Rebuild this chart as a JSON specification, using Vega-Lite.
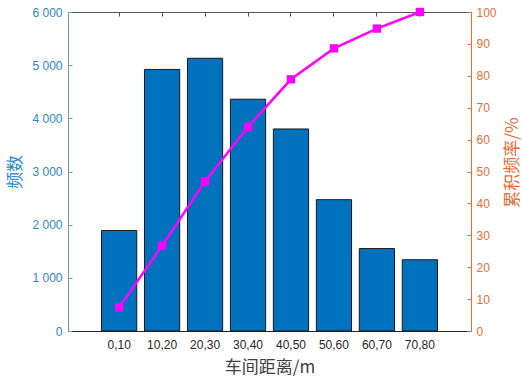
{
  "$schema": "https://vega.github.io/schema/vega-lite/v6.json",
  "width": 403,
  "height": 319,
  "autosize": "none",
  "padding": {"left": 68, "top": 12, "right": 51, "bottom": 45},
  "background": "white",
  "config": {
    "view": {"stroke": null},
    "font": "Liberation Sans",
    "axis": {"labelFont": "Liberation Sans", "labelFontSize": 12, "titleFont": "Noto Sans CJK SC", "titleFontSize": 17, "titleFontWeight": "normal", "grid": false}
  },
  "data": {
    "values": [
      {"range": "0,10", "count": 1890, "cum": 7.4},
      {"range": "10,20", "count": 4920, "cum": 26.7},
      {"range": "20,30", "count": 5130, "cum": 46.9},
      {"range": "30,40", "count": 4360, "cum": 64.0},
      {"range": "40,50", "count": 3800, "cum": 78.9},
      {"range": "50,60", "count": 2470, "cum": 88.6},
      {"range": "60,70", "count": 1550, "cum": 94.8},
      {"range": "70,80", "count": 1340, "cum": 100}
    ]
  },
  "layer": [
    {
      "mark": {"type": "bar", "fill": "#0072BD", "stroke": "#1a1a1a", "strokeWidth": 1},
      "encoding": {
        "x": {
          "field": "range", "type": "nominal", "sort": null,
          "scale": {"paddingInner": 0.18, "paddingOuter": 0.78},
          "axis": {
            "orient": "bottom", "title": "车间距离/m", "labelAngle": 0,
            "labelColor": "#262626", "titleColor": "#404040",
            "domainColor": "#262626", "tickColor": "#262626", "tickSize": -4,
            "labelPadding": 12, "titlePadding": 9
          }
        },
        "y": {
          "field": "count", "type": "quantitative",
          "scale": {"domain": [0, 6000], "nice": false},
          "axis": {
            "orient": "left", "title": "频数", "values": [0, 1000, 2000, 3000, 4000, 5000, 6000],
            "labelExpr": "replace(format(datum.value, ','), ',', ' ')",
            "labelColor": "#2F86C6", "titleColor": "#2F86C6",
            "domainColor": "#5AA0D0", "tickColor": "#5AA0D0", "tickSize": -4,
            "labelPadding": 10, "titlePadding": 7
          }
        }
      }
    },
    {
      "mark": {"type": "line", "color": "#FF00FF", "strokeWidth": 2.5, "point": {"shape": "square", "size": 70, "filled": true, "color": "#FF00FF"}},
      "encoding": {
        "x": {
          "field": "range", "type": "nominal", "sort": null,
          "axis": {"orient": "top", "labels": false, "title": null, "domainColor": "#555555", "tickColor": "#555555", "tickSize": -4}
        },
        "y": {
          "field": "cum", "type": "quantitative",
          "scale": {"domain": [0, 100], "nice": false},
          "axis": {
            "orient": "right", "title": "累积频率/%", "titleAngle": 270,
            "values": [0, 10, 20, 30, 40, 50, 60, 70, 80, 90, 100],
            "labelColor": "#E0703A", "titleColor": "#E0703A",
            "domainColor": "#D9703E", "tickColor": "#D9703E", "tickSize": -4,
            "labelPadding": 9, "titlePadding": 25, "titleY": 150
          }
        }
      }
    }
  ],
  "resolve": {"scale": {"y": "independent"}, "axis": {"x": "independent"}}
}
